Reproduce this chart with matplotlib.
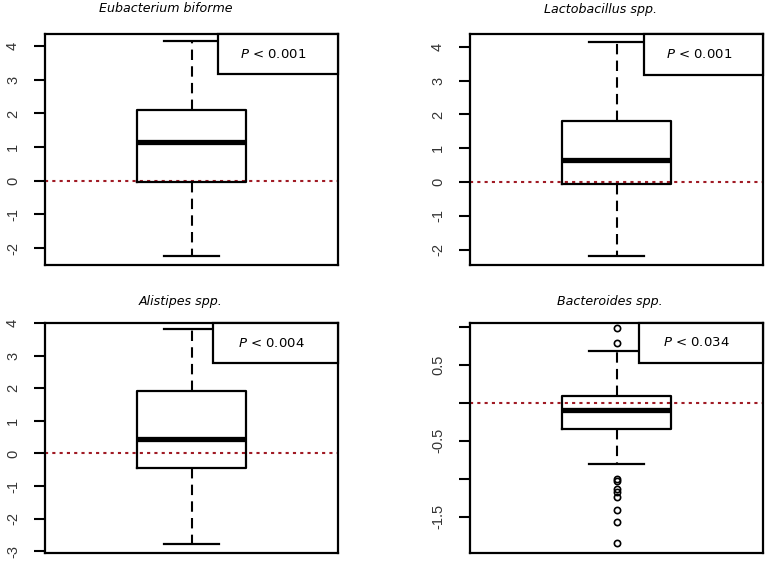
import matplotlib
matplotlib.use("Agg")
import matplotlib.pyplot as plt
from matplotlib.patches import Rectangle

# === Data ===
titles = ["Eubacterium biforme", "Lactobacillus spp.", "Alistipes spp.", "Bacteroides spp."]
p_texts = ["0.001", "0.001", "0.004", "0.034"]

whislo = [-2.23, -2.17, -2.77, -0.81]
q1 = [-0.03, -0.05, -0.44, -0.34]
med = [1.15, 0.66, 0.43, -0.09]
q3 = [2.10, 1.80, 1.93, 0.09]
whishi = [4.15, 4.15, 3.82, 0.68]
fliers = [[], [], [],
          [0.98, 0.79, -1.00, -1.03, -1.14, -1.18, -1.24, -1.41, -1.57, -1.85]]

ylims = [(-2.5, 4.36), (-2.45, 4.38), (-3.05, 4.0), (-1.98, 1.05)]
yticks = [[-2, -1, 0, 1, 2, 3, 4], [-2, -1, 0, 1, 2, 3, 4],
          [-3, -2, -1, 0, 1, 2, 3, 4], [-1.5, -1.0, -0.5, 0, 0.5, 1.0]]
ytick_labels = [["-2", "-1", "0", "1", "2", "3", "4"],
                ["-2", "-1", "0", "1", "2", "3", "4"],
                ["-3", "-2", "-1", "0", "1", "2", "3", "4"],
                ["-1.5", "", "-0.5", "", "0.5", ""]]

# === Layout ===
W, H = 769, 563
fig = plt.figure(figsize=(W / 100, H / 100), dpi=100)

axes_px = [(45, 338, 34, 265), (470, 763, 34, 265),
           (45, 338, 323, 553), (470, 763, 323, 553)]
title_px = [(166, 9), (601, 9), (181, 302), (610, 302)]
rect_x0 = [0.59, 0.594, 0.573, 0.577]
rect_y0 = [0.826, 0.822, 0.824, 0.827]

for i in range(4):
    l, r, t, b = axes_px[i]
    ax = fig.add_axes([l / W, 1 - b / H, (r - l) / W, (b - t) / H])

    stats = [dict(whislo=whislo[i], q1=q1[i], med=med[i], q3=q3[i],
                  whishi=whishi[i], fliers=fliers[i])]
    ax.bxp(stats, positions=[1], widths=0.37, capwidths=0.19,
           showfliers=True,
           boxprops=dict(color="black", lw=1.6),
           medianprops=dict(color="black", lw=3.8, solid_capstyle="butt"),
           whiskerprops=dict(color="black", lw=1.5, linestyle=(0, (5, 3))),
           capprops=dict(color="black", lw=1.6),
           flierprops=dict(marker="o", markersize=4.5, markerfacecolor="none",
                           markeredgecolor="black", markeredgewidth=1.2))

    ax.axhline(0, color="#a01a24", lw=1.5, linestyle=(0, (1.5, 2)), zorder=1)

    ax.set_xlim(0.5, 1.5)
    ax.set_ylim(*ylims[i])
    ax.set_xticks([])
    ax.set_yticks(yticks[i])
    ax.set_yticklabels(ytick_labels[i], rotation=90, va="center",
                       family="Liberation Sans", fontsize=10.5, color="#333333")
    ax.tick_params(axis="y", length=8, width=1.5, pad=10)
    for s in ax.spines.values():
        s.set_linewidth(1.6)

    # p-value box in the top right corner
    ax.add_patch(Rectangle((rect_x0[i], rect_y0[i]), 1 - rect_x0[i], 1 - rect_y0[i],
                           transform=ax.transAxes, facecolor="white",
                           edgecolor="black", lw=1.6, zorder=5, clip_on=False))
    cx = (rect_x0[i] + 1) / 2 - 0.015
    cy = (rect_y0[i] + 1) / 2
    ax.text(cx, cy, r"$\it{P}$ < " + p_texts[i], transform=ax.transAxes,
            ha="center", va="center", fontsize=9.5, zorder=6)

    tx, ty = title_px[i]
    fig.text(tx / W, 1 - ty / H, titles[i], ha="center", va="center",
             style="italic", fontsize=9.1)

fig.savefig("out.png", dpi=100)
